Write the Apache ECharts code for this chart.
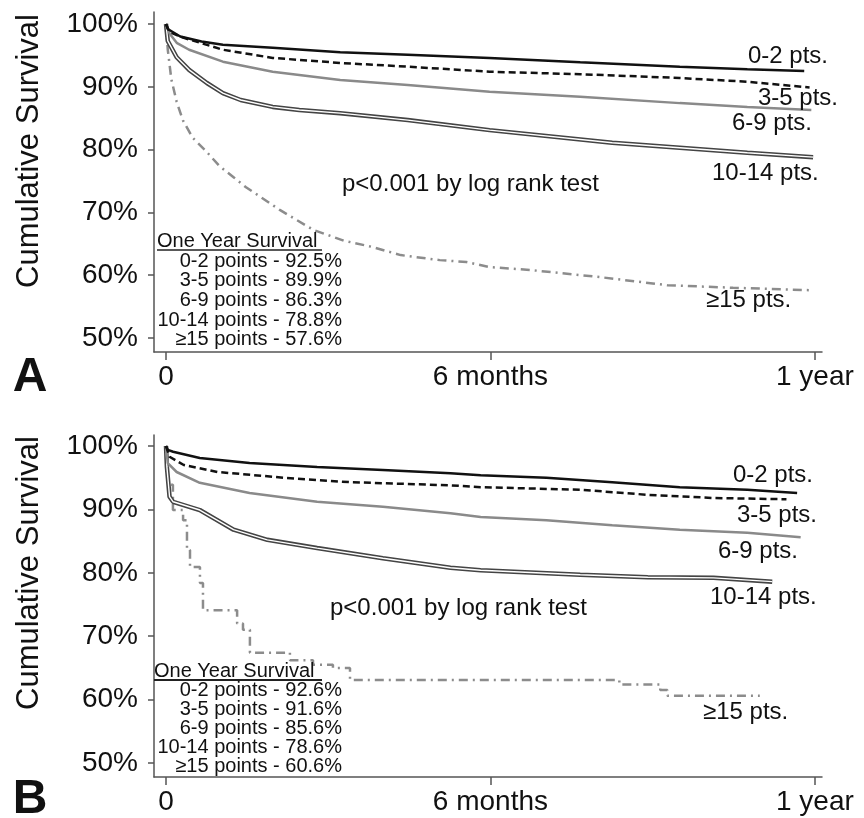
<!DOCTYPE html>
<html>
<head>
<meta charset="utf-8">
<script src="https://cdn.jsdelivr.net/npm/echarts@6/dist/echarts.min.js"></script>
<style>html,body{margin:0;padding:0;background:#fff}#c{width:864px;height:818px}</style>
</head>
<body>
<div id="c"></div>
<script>
// ---- Data (days since start, cumulative survival %) ----
// Panel A
const a_0_2   = [[0,100],[1,99.2],[8,98.0],[20,97.2],[32,96.7],[60,96.2],[98,95.5],[136,95.1],[182,94.6],[233,93.9],[289,93.2],[327,92.8],[359,92.5]];
const a_3_5   = [[0,100],[2,98.7],[10,97.8],[32,95.9],[60,94.6],[98,93.8],[136,93.2],[182,92.4],[233,92.0],[289,91.4],[327,90.8],[362,89.9]];
const a_6_9   = [[0,100],[2,98.5],[6,97.0],[13,95.9],[32,94.0],[60,92.4],[98,91.1],[136,90.3],[182,89.2],[233,88.4],[289,87.4],[327,86.8],[363,86.3]];
const a_10_14 = [[0,100],[1,97.3],[6,94.7],[13,92.7],[23,90.6],[32,89.0],[42,87.9],[60,86.8],[75,86.3],[98,85.8],[136,84.7],[182,83.1],[251,81.1],[289,80.3],[327,79.5],[364,78.8]];
const a_15    = [[0,100],[1,95.9],[3,91.2],[6,87.6],[9.6,84.6],[15,81.9],[23,79.6],[30,77.4],[38,75.6],[45,74.0],[53,72.5],[64,70.4],[83,67.2],[100,65.5],[116,64.5],[132,63.2],[154,62.4],[169,62.1],[182,61.3],[206,60.8],[244,59.7],[282,58.4],[319,58.0],[364,57.6]];
// Panel B
const b_0_2   = [[0,100],[1,99.4],[4,99.1],[19,98.1],[47,97.3],[85,96.7],[122,96.2],[160,95.7],[177,95.4],[214,95.0],[251,94.3],[289,93.5],[327,93.1],[355,92.6]];
const b_3_5   = [[0,100],[2,98.3],[10,97.0],[29,95.9],[66,95.0],[103,94.3],[160,93.8],[177,93.5],[233,93.1],[271,92.3],[308,91.8],[349,91.6]];
const b_6_9   = [[0,100],[1,97.3],[6,95.9],[19,94.2],[47,92.6],[85,91.2],[122,90.4],[160,89.4],[177,88.8],[214,88.3],[251,87.5],[289,86.8],[327,86.3],[357,85.6]];
const b_10_14 = [[0,100],[0.5,96.7],[2,92.0],[4,91.2],[19,89.9],[38,86.8],[57,85.2],[85,83.9],[122,82.3],[160,80.8],[177,80.4],[233,79.7],[271,79.3],[308,79.2],[341,78.6]];
const b_15    = [[0,100],[1,93.9],[3.9,89.9],[9.6,88.3],[11.8,83.6],[13.5,80.9],[19.1,78.4],[20.8,74.1],[40,72.0],[43.3,71.0],[47.2,67.4],[69.7,66.2],[82.7,65.5],[93.9,65.0],[103.5,63.1],[255,62.4],[278,61.5],[282,60.6],[334,60.6]];

const yTicks = [50,60,70,80,90,100];
const xTicks = [0,182.5,365];
const xTickLabels = {0:'0',182.5:'6 months',365:'1 year'};
const groupNames = ['0-2 pts.','3-5 pts.','6-9 pts.','10-14 pts.','≥15 pts.'];
const survA = ['0-2 points - 92.5%','3-5 points - 89.9%','6-9 points - 86.3%','10-14 points - 78.8%','≥15 points - 57.6%'];
const survB = ['0-2 points - 92.6%','3-5 points - 91.6%','6-9 points - 85.6%','10-14 points - 78.6%','≥15 points - 60.6%'];

const FONT = '"Liberation Sans", Arial, sans-serif';
const chart = echarts.init(document.getElementById('c'), null, {renderer:'canvas'});

function xAxisCfg(gi){
  return {
    type:'value', gridIndex:gi, min:-6.75, max:369,
    axisLine:{show:true, onZero:false, lineStyle:{color:'#555', width:1.5}},
    axisTick:{show:true, customValues:xTicks, length:8, inside:false, lineStyle:{color:'#555', width:1.5}},
    axisLabel:{customValues:xTicks, formatter:v=>xTickLabels[v]!==undefined?xTickLabels[v]:'', fontFamily:FONT, fontSize:28, color:'#111', margin:11},
    splitLine:{show:false}
  };
}
function yAxisCfg(gi, mn, mx){
  return {
    type:'value', gridIndex:gi, min:mn, max:mx,
    axisLine:{show:true, onZero:false, lineStyle:{color:'#555', width:1.5}},
    axisTick:{show:true, customValues:yTicks, length:6, lineStyle:{color:'#555', width:1.5}},
    axisLabel:{customValues:yTicks, formatter:v=>v+'%', fontFamily:FONT, fontSize:28, color:'#111', margin:16},
    splitLine:{show:false}
  };
}
function seriesSet(gi, d02, d35, d69, d1014, d15, step15){
  const base = {type:'line', xAxisIndex:gi, yAxisIndex:gi, symbol:'none', silent:true, animation:false};
  return [
    Object.assign({}, base, {name:'≥15', data:d15, step: step15 ? 'end' : false, lineStyle:{color:'#8c8c8c', width:2.5, type:[9,5,2,5]}}),
    Object.assign({}, base, {name:'10-14 outer', data:d1014, lineStyle:{color:'#444', width:4.5}}),
    Object.assign({}, base, {name:'10-14 inner', data:d1014, lineStyle:{color:'#ffffff', width:1.4}}),
    Object.assign({}, base, {name:'6-9', data:d69, lineStyle:{color:'#8a8a8a', width:2.5}}),
    Object.assign({}, base, {name:'3-5', data:d35, lineStyle:{color:'#111', width:2.5, type:[7,4]}}),
    Object.assign({}, base, {name:'0-2', data:d02, lineStyle:{color:'#111', width:2.5}})
  ];
}
function txt(s, x, y, size, align, opts){
  opts = opts || {};
  return {type:'text', x:x, y:y, rotation:opts.rotation||0, z:100,
    style:{text:s, fill:'#111', font:(opts.bold?'bold ':'')+size+'px '+FONT, align:align, verticalAlign:'middle', textAlign:align, textVerticalAlign:'middle'}};
}

const graphics = [];
// y-axis names
graphics.push(txt('Cumulative Survival', 29, 151, 31, 'center', {rotation:Math.PI/2}));
graphics.push(txt('Cumulative Survival', 29, 573, 31, 'center', {rotation:Math.PI/2}));
// panel letters
graphics.push(txt('A', 30, 378, 48, 'center', {bold:true}));
graphics.push(txt('B', 30, 800, 48, 'center', {bold:true}));
// annotations panel A
graphics.push(txt(groupNames[0], 748, 56, 24, 'left'));
graphics.push(txt(groupNames[1], 758, 98, 24, 'left'));
graphics.push(txt(groupNames[2], 732, 123, 24, 'left'));
graphics.push(txt(groupNames[3], 712, 173, 24, 'left'));
graphics.push(txt(groupNames[4], 706, 300, 24, 'left'));
graphics.push(txt('p<0.001 by log rank test', 342, 184, 24, 'left'));
// annotations panel B
graphics.push(txt(groupNames[0], 733, 475, 24, 'left'));
graphics.push(txt(groupNames[1], 737, 515, 24, 'left'));
graphics.push(txt(groupNames[2], 718, 551, 24, 'left'));
graphics.push(txt(groupNames[3], 710, 597, 24, 'left'));
graphics.push(txt(groupNames[4], 703, 712, 24, 'left'));
graphics.push(txt('p<0.001 by log rank test', 330, 608, 24, 'left'));
// legend boxes
graphics.push(txt('One Year Survival', 157, 241, 20, 'left'));
graphics.push({type:'line', z:100, shape:{x1:157, y1:250, x2:322, y2:250}, style:{stroke:'#222', lineWidth:1.5}});
const rowsA = [261, 280, 300, 320, 339];
survA.forEach((s,i)=>graphics.push(txt(s, 342, rowsA[i], 20, 'right')));
graphics.push(txt('One Year Survival', 154, 671, 20, 'left'));
graphics.push({type:'line', z:100, shape:{x1:154, y1:680, x2:322, y2:680}, style:{stroke:'#222', lineWidth:1.8}});
const rowsB = [690, 709, 728, 747, 766];
survB.forEach((s,i)=>graphics.push(txt(s, 342, rowsB[i], 20, 'right')));

chart.setOption({
  backgroundColor:'#fff',
  animation:false,
  grid:[
    {left:154, width:668, top:12, height:340},
    {left:154, width:668, top:435, height:342}
  ],
  xAxis:[xAxisCfg(0), xAxisCfg(1)],
  yAxis:[yAxisCfg(0, 47.77, 101.91), yAxisCfg(1, 47.79, 101.735)],
  series:[].concat(
    seriesSet(0, a_0_2, a_3_5, a_6_9, a_10_14, a_15, false),
    seriesSet(1, b_0_2, b_3_5, b_6_9, b_10_14, b_15, true)
  ),
  graphic:graphics
});
</script>
</body>
</html>
